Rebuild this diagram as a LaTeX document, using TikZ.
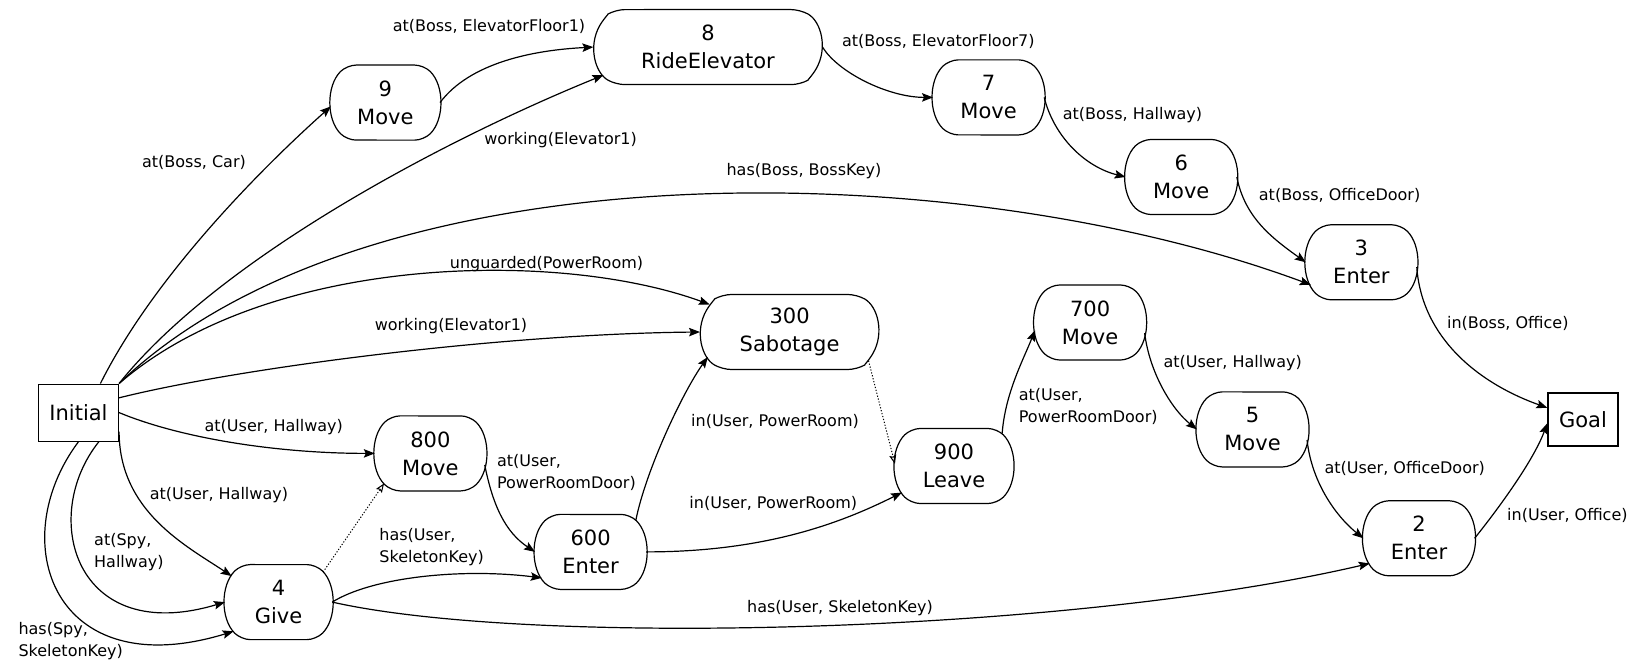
\documentclass[tikz,border=0pt]{standalone}
\usepackage{fontspec}
\setmainfont{DejaVu Sans}
\usetikzlibrary{shapes.misc,arrows.meta}
\begin{document}
\begin{tikzpicture}[x=1pt,y=-1pt,
  act/.style={draw, rounded rectangle, rounded rectangle arc length=90, rounded corners=9pt, line width=1.2pt, minimum height=75pt, minimum width=110pt, inner sep=0pt, align=center, font=\fontsize{21}{28}\selectfont},
  term/.style={draw, rectangle, line width=1.2pt, inner sep=0pt, font=\fontsize{21}{28}\selectfont},
  lab/.style={inner sep=0pt, font=\fontsize{16}{22}\selectfont},
  labl/.style={lab, anchor=west, align=left},
  conn/.style={line width=1.2pt, -{Stealth[length=11pt,width=8.5pt,inset=2pt]}},
  dep/.style={line width=1pt, dash pattern=on 1.2pt off 1.8pt, -{Stealth[open,length=9pt,width=7pt,inset=1.5pt]}}
]
\useasboundingbox (0,0) rectangle (1642,663);
% nodes
\node[term, minimum width=80pt, minimum height=57pt] (init) at (78.5,412.6) {Initial};
\node[term, minimum width=70pt, minimum height=53pt] (goal) at (1583,419.4) {Goal};
\node[act, minimum width=108pt] (n9) at (385.4,102.6) {9\\Move};
\node[act, minimum width=228pt, rounded rectangle arc length=120] (n8) at (708,47.1) {8\\RideElevator};
\node[act] (n7) at (988.6,97.4) {7\\Move};
\node[act] (n6) at (1181.2,177) {6\\Move};
\node[act] (n3) at (1361.4,262.3) {3\\Enter};
\node[act, minimum width=178pt, rounded rectangle arc length=120] (n300) at (789.6,332) {300\\Sabotage};
\node[act] (n700) at (1090.1,322.5) {700\\Move};
\node[act] (n5) at (1252.5,429.4) {5\\Move};
\node[act, minimum width=117pt] (n900) at (954,466) {900\\Leave};
\node[act] (n2) at (1419,538.3) {2\\Enter};
\node[act] (n800) at (430.4,453.4) {800\\Move};
\node[act] (n600) at (590.6,551.9) {600\\Enter};
\node[act, minimum width=96pt] (n4) at (278.6,602.1) {4\\Give};
% edges
\draw[conn] (init.53) .. controls +(60,-120) and +(-45,40) .. (n9.184);
\draw[conn] (n9.east) .. controls +(30,-40) and +(-60,3) .. (n8.west);
\draw[conn] (init.north east) .. controls +(100,-125) and +(-160,65) .. (n8.195);
\draw[conn] (n8.east) .. controls +(15,25) and +(-45,0) .. (n7.west);
\draw[conn] (n7.east) .. controls +(10,40) and +(-40,-10) .. (n6.west);
\draw[conn] (n6.east) .. controls +(8,40) and +(-35,-25) .. (n3.west);
\draw[conn] (init.north east) .. controls +(250,-240) and +(-350,-130) .. (n3.204);
\draw[conn] (init.north east) .. controls +(150,-130) and +(-150,-55) .. (n300.161);
\draw[conn] (init.20) .. controls +(120,-30) and +(-200,2) .. (n300.west);
\draw[conn] (n3.355) .. controls +(5,70) and +(-70,-25) .. (goal.162);
\draw[conn] (init.east) .. controls +(60,25) and +(-100,0) .. (n800.west);
\draw[conn] (init.335) .. controls +(0,80) and +(-45,-30) .. (n4.151);
\draw[conn] (init.305) .. controls +(-60,75) and +(-150,45) .. (n4.west);
\draw[conn] (init.south) .. controls +(-75,100) and +(-180,55) .. (n4.213);
\draw[dep] (n4.34) -- (n800.213);
\draw[conn] (n4.east) .. controls +(40,-25) and +(-80,-10) .. (n600.208);
\draw[conn] (n4.east) .. controls +(200,45) and +(-300,70) .. (n2.207);
\draw[conn] (n800.348) .. controls +(8,40) and +(-30,-20) .. (n600.west);
\draw[conn] (n600.35) .. controls +(10,-50) and +(-25,35) .. (n300.197);
\draw[conn] (n600.east) .. controls +(120,0) and +(-60,30) .. (n900.207);
\draw[dep] (n300.340) -- (n900.178);
\draw[conn] (n900.34) .. controls +(3,-40) and +(-12,30) .. (n700.188);
\draw[conn] (n700.349) .. controls +(5,40) and +(-25,-20) .. (n5.west);
\draw[conn] (n5.349) .. controls +(5,45) and +(-25,-20) .. (n2.west);
\draw[conn] (n2.east) .. controls +(20,-25) and +(-15,40) .. (goal.186);
% labels
\node[lab] (l1) at (194,162.3) {at(Boss, Car)};
\node[lab] (l2) at (489,26.2) {at(Boss, ElevatorFloor1)};
\node[lab] (l3) at (560.6,140.3) {working(Elevator1)};
\node[lab] (l4) at (938.3,41.9) {at(Boss, ElevatorFloor7)};
\node[lab] (l5) at (1132.5,115.5) {at(Boss, Hallway)};
\node[lab] (l6) at (1339.6,195.7) {at(Boss, OfficeDoor)};
\node[lab] (l7) at (804,170.7) {has(Boss, BossKey)};
\node[lab] (l8) at (546.5,264) {unguarded(PowerRoom)};
\node[lab] (l9) at (451,325.7) {working(Elevator1)};
\node[lab] (l10) at (1507.8,323.3) {in(Boss, Office)};
\node[lab] (l11) at (273.8,426.7) {at(User, Hallway)};
\node[lab] (l12) at (218.9,495) {at(User, Hallway)};
\node[labl] (l13) at (94,552.5) {at(Spy,\\Hallway)};
\node[labl] (l14) at (18.3,640.8) {has(Spy,\\SkeletonKey)};
\node[labl] (l16) at (379.2,547) {has(User,\\SkeletonKey)};
\node[lab] (l17) at (840,608.4) {has(User, SkeletonKey)};
\node[labl] (l18) at (496.9,472) {at(User,\\PowerRoomDoor)};
\node[lab] (l19) at (775,421) {in(User, PowerRoom)};
\node[lab] (l20) at (773.3,503.7) {in(User, PowerRoom)};
\node[labl] (l22) at (1018.7,406.2) {at(User,\\PowerRoomDoor)};
\node[lab] (l23) at (1232.7,363.3) {at(User, Hallway)};
\node[lab] (l24) at (1404.7,468.3) {at(User, OfficeDoor)};
\node[lab] (l25) at (1567.4,515) {in(User, Office)};
\end{tikzpicture}
\end{document}
